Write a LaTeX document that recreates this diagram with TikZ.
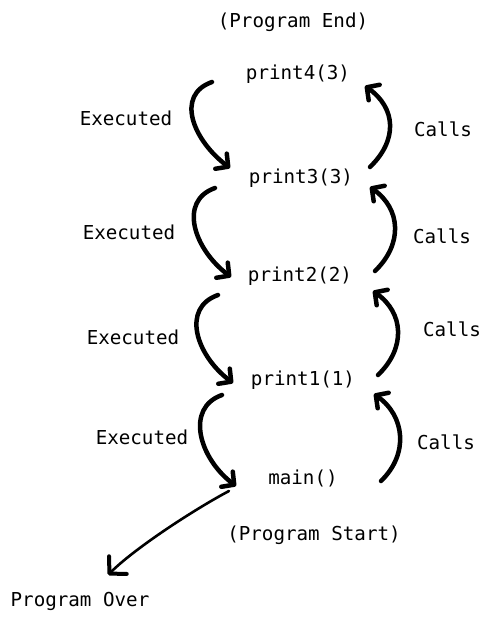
\documentclass[tikz,border=0pt]{standalone}
\usepackage{fontspec}
\setmonofont{DejaVu Sans Mono}
\usetikzlibrary{arrows.meta}
\begin{document}
\begin{tikzpicture}[x=1pt,y=-1pt,
  lbl/.style={font=\ttfamily\fontsize{19.2}{21}\selectfont, inner sep=0pt, anchor=center},
  bigarrow/.style={line width=4.5pt, line cap=round, line join=round,
    -{Straight Barb[length=9pt,width=19pt,round]}},
  thinarrow/.style={line width=2.6pt, line cap=round, line join=round,
    -{Straight Barb[length=12pt,width=25pt,round,line width=4pt]}}]
\useasboundingbox (0,0) rectangle (493,622);
% texts
\node[lbl] (pend) at (293,22) {(Program End)};
\node[lbl] (p4) at (298,74) {print4(3)};
\node[lbl] (p3) at (301,178) {print3(3)};
\node[lbl] (p2) at (300,276) {print2(2)};
\node[lbl] (p1) at (303,380) {print1(1)};
\node[lbl] (mn) at (303,478) {main()};
\node[lbl] (pstart) at (314,535) {(Program Start)};
\node[lbl] (pover) at (80,601) {Program Over};
\node[lbl] (e1) at (126,118) {Executed};
\node[lbl] (e2) at (129,232) {Executed};
\node[lbl] (e3) at (133,337) {Executed};
\node[lbl] (e4) at (142,437) {Executed};
\node[lbl] (c1) at (443,129) {Calls};
\node[lbl] (c2) at (442,236) {Calls};
\node[lbl] (c3) at (452,329) {Calls};
\node[lbl] (c4) at (446,442) {Calls};
% arrow end points
\coordinate (l1s) at (212,82);  \coordinate (l1t) at (230,168);
\coordinate (l2s) at (215,188); \coordinate (l2t) at (231,277);
\coordinate (l3s) at (218,295); \coordinate (l3t) at (233,383);
\coordinate (l4s) at (222,395); \coordinate (l4t) at (236,486);
\coordinate (r1s) at (370,167); \coordinate (r1t) at (365,86);
\coordinate (r2s) at (375,271); \coordinate (r2t) at (370,187);
\coordinate (r3s) at (378,375); \coordinate (r3t) at (373,291);
\coordinate (r4s) at (381,481); \coordinate (r4t) at (374,394);
\coordinate (os) at (229,491);  \coordinate (ot) at (108,575);
% Executed arrows
\draw[bigarrow] (l1s) .. controls (175,95) and (193,140) .. (l1t);
\draw[bigarrow] (l2s) .. controls (178,201) and (194,249) .. (l2t);
\draw[bigarrow] (l3s) .. controls (181,308) and (196,355) .. (l3t);
\draw[bigarrow] (l4s) .. controls (185,408) and (199,458) .. (l4t);
% Calls arrows
\draw[bigarrow] (r1s) .. controls (398,140) and (396,108) .. (r1t);
\draw[bigarrow] (r2s) .. controls (403,244) and (401,209) .. (r2t);
\draw[bigarrow] (r3s) .. controls (406,348) and (404,313) .. (r3t);
\draw[bigarrow] (r4s) .. controls (409,454) and (405,416) .. (r4t);
% Program over
\draw[thinarrow] (os) .. controls (195,509) and (135,548) .. (ot);
\end{tikzpicture}
\end{document}
